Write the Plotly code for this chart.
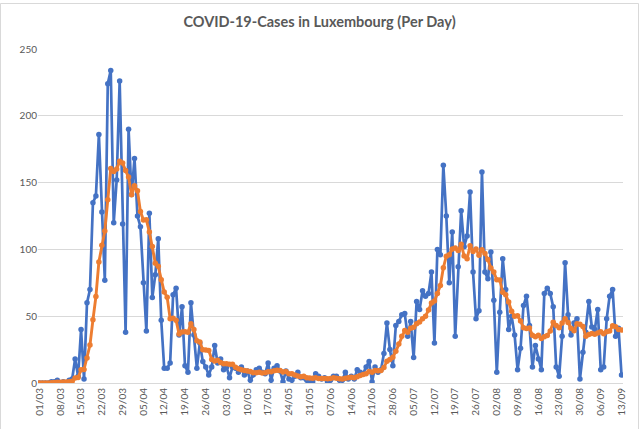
import pandas as pd
import plotly.graph_objects as go

dates = pd.date_range("2020-03-01", "2020-09-13", freq="D")

daily_cases = [
    0, 0, 0, 0, 1, 1, 2, 0, 1, 0, 2, 3,
    18, 5, 40, 3, 60, 70, 135, 140, 186, 128, 77, 224, 234,
    120, 152, 226, 119, 38, 190, 141, 168, 125, 117, 75, 39,
    127, 64, 81, 108, 47, 11, 11, 15, 66, 71, 36, 57,
    13, 8, 60, 36, 11, 30, 16, 12, 6, 12, 28, 15,
    18, 10, 12, 4, 12, 11, 8, 12, 6, 9, 2, 6,
    10, 11, 8, 7, 15, 2, 11, 13, 9, 1, 9, 3,
    2, 5, 8, 4, 4, 2, 1, 1, 7, 5, 3, 4,
    1, 2, 5, 5, 2, 2, 8, 3, 5, 3, 10, 8,
    7, 12, 16, 1,
    12, 8, 10, 22, 45, 25, 13, 43, 46, 51, 52, 35,
    46, 19, 61, 55, 69, 65, 67, 83, 30, 100, 96, 163,
    125, 75, 113, 35, 87, 129, 102, 110, 143, 83, 48, 54,
    158, 83, 78, 98, 62, 8, 53, 93, 70, 40, 50, 36,
    10, 26, 58, 65, 43, 12, 28, 18, 10, 67, 71, 67,
    57, 12, 5, 35, 90, 51, 36, 45, 48, 3, 23, 38,
    61, 42, 40, 55, 10, 12, 48, 65, 70, 35, 41, 6,
]

avg_7day = [
    0.0, 0.0, 0.0, 0.0, 0.1, 0.3, 0.6, 0.6, 0.7, 0.7, 1.0, 1.3,
    3.7, 4.1, 9.9, 10.1, 18.7, 28.4, 47.3, 64.7, 90.6, 103.1, 113.7, 137.1, 160.6,
    158.4, 160.1, 165.9, 164.6, 159.0, 154.1, 140.9, 147.7, 143.9, 128.3, 122.0, 122.1,
    113.1, 102.1, 89.7, 87.3, 77.3, 68.1, 64.1, 48.1, 48.4, 47.0, 36.7, 38.1,
    38.4, 38.0, 44.4, 40.1, 31.6, 30.7, 24.9, 24.7, 24.4, 17.6, 16.4, 17.0,
    15.3, 14.4, 14.4, 14.1, 14.1, 11.7, 10.7, 9.9, 9.3, 8.9, 8.6, 7.7,
    7.6, 8.0, 7.4, 7.6, 8.4, 8.4, 9.1, 9.6, 9.3, 8.3, 8.6, 6.9,
    6.9, 6.0, 5.3, 4.6, 5.0, 4.0, 3.7, 3.6, 3.9, 3.4, 3.3, 3.3,
    3.1, 3.3, 3.9, 3.6, 3.1, 3.0, 3.6, 3.9, 4.3, 4.0, 4.7, 5.6,
    6.3, 6.9, 8.7, 8.1,
    9.4, 9.1, 9.4, 11.6, 16.3, 17.6, 19.3, 23.7, 29.1, 35.0, 39.3, 37.9,
    40.9, 41.7, 44.3, 45.6, 48.1, 50.0, 54.6, 59.9, 61.4, 67.0, 72.9, 86.3,
    94.9, 96.0, 100.3, 101.0, 99.1, 103.9, 95.1, 93.0, 102.7, 98.4, 100.3, 95.6,
    99.7, 97.0, 92.4, 86.0, 83.0, 77.3, 77.1, 67.9, 66.0, 60.6, 53.7, 50.0,
    50.3, 46.4, 41.4, 40.7, 41.1, 35.7, 34.6, 35.7, 33.4, 34.7, 35.6, 39.0,
    45.4, 43.1, 41.3, 44.9, 48.1, 45.3, 40.9, 39.1, 44.3, 44.0, 42.3, 34.9,
    36.3, 37.1, 36.4, 37.4, 38.4, 36.9, 38.3, 38.9, 42.9, 42.1, 40.1, 39.6,
]

title_text = "COVID-19-Cases in Luxembourg (Per Day)"
y_ticks = [0, 50, 100, 150, 200, 250]

FONT = "Lato, 'Liberation Sans', sans-serif"
GREY = "#595959"

fig = go.Figure()
fig.add_trace(go.Scatter(
    x=dates, y=daily_cases, mode="lines+markers",
    line=dict(color="#4472C4", width=2.7),
    marker=dict(color="#4472C4", size=5.5, symbol="circle"),
    name="Cases", hoverinfo="x+y",
))
fig.add_trace(go.Scatter(
    x=dates, y=avg_7day, mode="lines+markers",
    line=dict(color="#ED7D31", width=2.9),
    marker=dict(color="#ED7D31", size=5.5, symbol="circle"),
    name="7-day average", hoverinfo="x+y",
))

L, R, T, B = 38, 16, 49, 46
W, H = 639, 429
pw, ph = W - L - R, H - T - B

fig.update_layout(
    width=W, height=H,
    margin=dict(l=L, r=R, t=T, b=B, autoexpand=False),
    paper_bgcolor="white", plot_bgcolor="white",
    showlegend=False,
    font=dict(family=FONT, color=GREY),
    title=dict(
        text="<b>" + title_text + "</b>",
        x=0.5, xanchor="center",
        y=1 - 22 / H, yanchor="middle",
        font=dict(family=FONT, size=14.5, color=GREY),
    ),
    xaxis=dict(
        range=[pd.Timestamp("2020-02-29 12:00"), pd.Timestamp("2020-09-13 12:00")],
        tick0="2020-03-01", dtick=7 * 86400000,
        tickformat="%d/%m", tickangle=-90,
        showgrid=False, zeroline=False, automargin=False,
        showline=True, linecolor="#D9D9D9", linewidth=1,
        ticks="", tickfont=dict(size=10, color=GREY, family=FONT),
    ),
    yaxis=dict(
        range=[0, 250], tickvals=y_ticks, automargin=False,
        showgrid=True, gridcolor="#D9D9D9", gridwidth=1,
        zeroline=False, showline=False, ticks="",
        tickfont=dict(size=10, color=GREY, family=FONT),
    ),
)

fig.add_shape(
    type="rect", xref="paper", yref="paper",
    x0=(0.5 - L) / pw, x1=(W - 0.5 - L) / pw,
    y0=(H - T - (H - 0.5)) / ph, y1=(H - T - 0.5) / ph,
    line=dict(color="#D9D9D9", width=1), fillcolor="rgba(0,0,0,0)",
    layer="below",
)

fig.write_html(
    "out.html",
    config={"displayModeBar": False},
    post_script="document.body.style.margin='0';document.body.style.padding='0';",
)
